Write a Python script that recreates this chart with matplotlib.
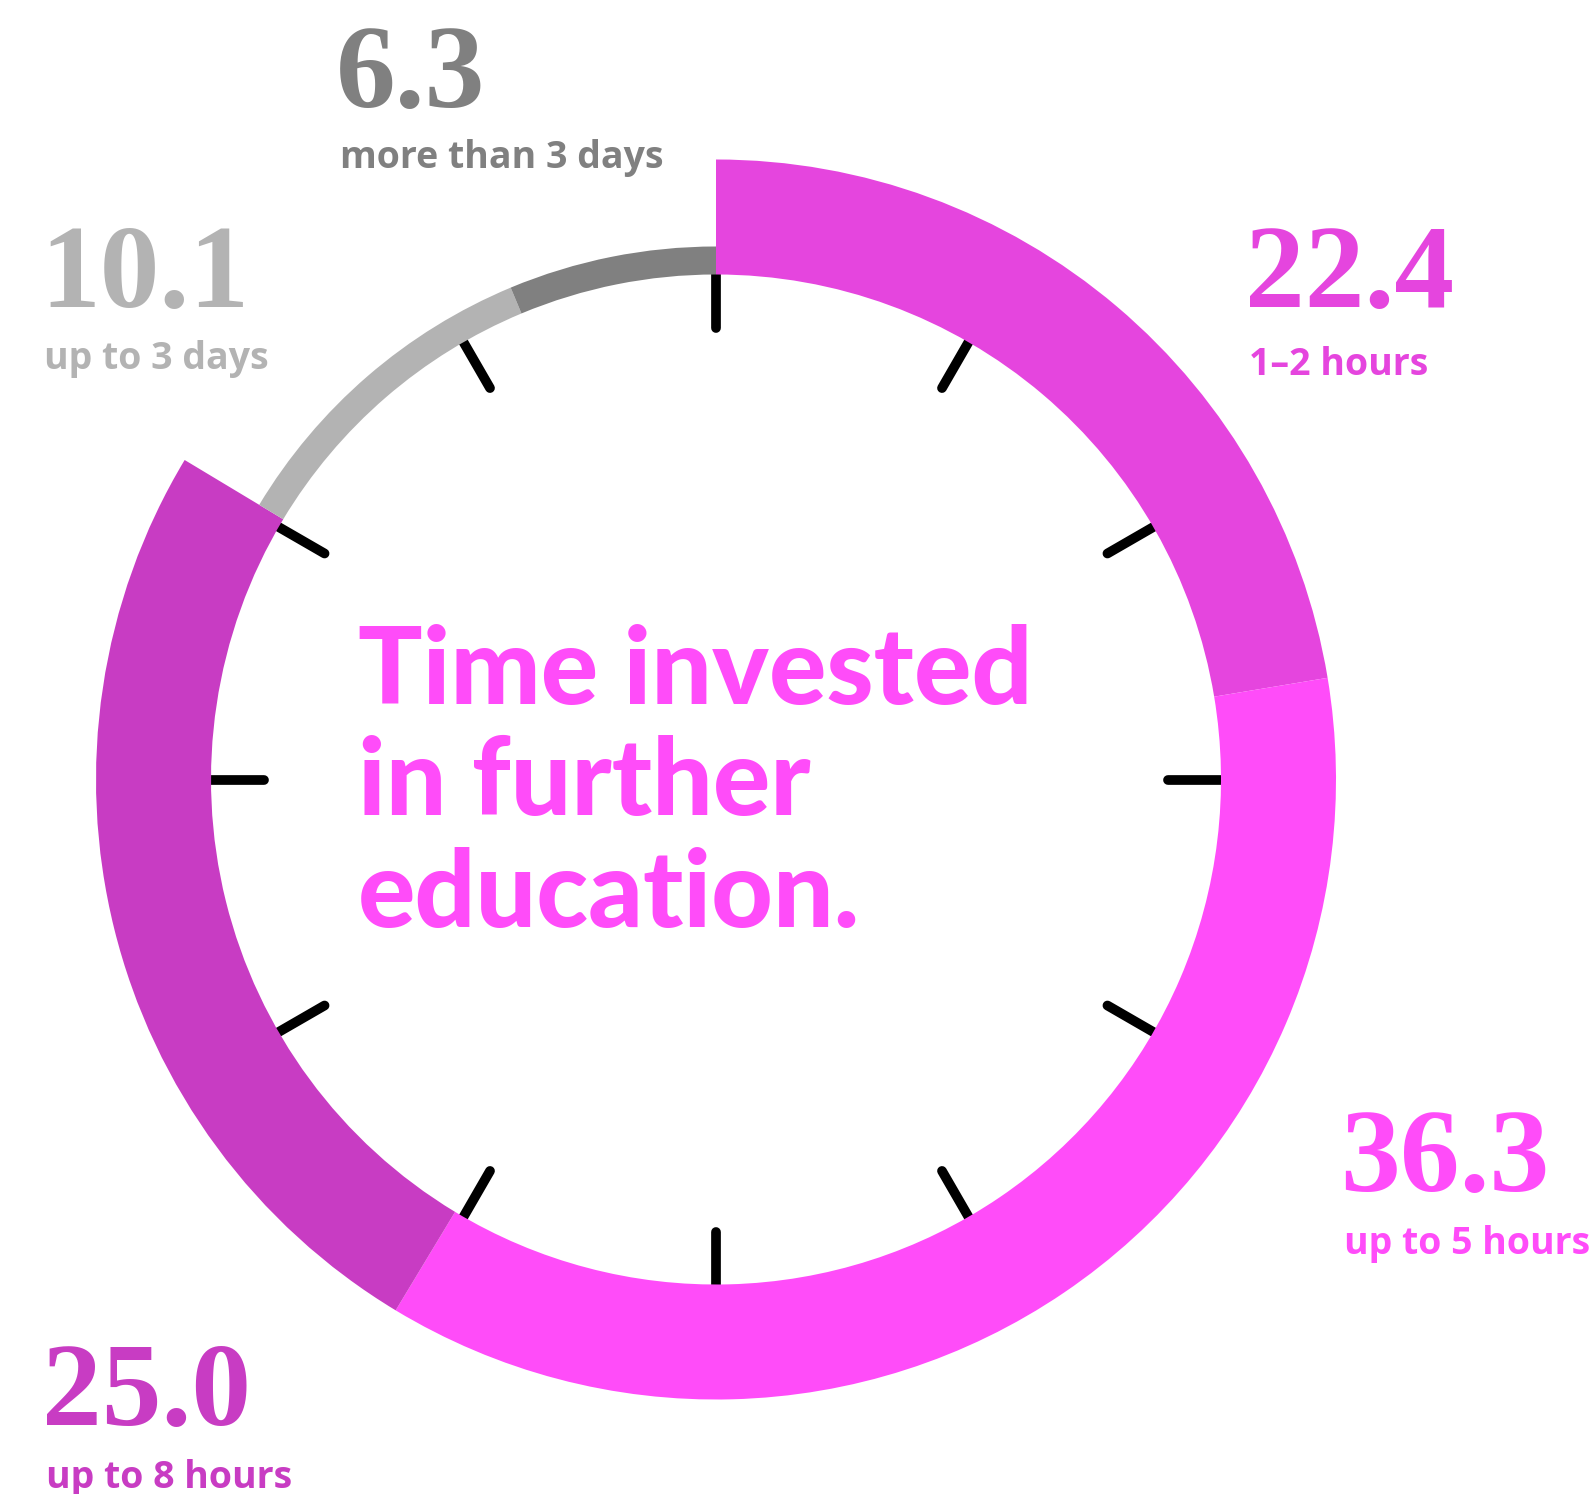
import matplotlib
matplotlib.use('Agg')
import matplotlib.pyplot as plt
from matplotlib.patches import Wedge
import numpy as np

# data (clockwise from 12 o'clock)
values = [22.4, 36.3, 25.0, 10.1, 6.3]
labels = ['1\u20132 hours', 'up to 5 hours', 'up to 8 hours', 'up to 3 days', 'more than 3 days']
colors = ['#E545DE', '#FF4CF9', '#C83CC3', '#B3B3B3', '#808080']
thick = [True, True, True, False, False]
title_lines = ['Time invested', 'in further', 'education.']

W, H = 1594, 1494
cx, cy = 716, 779.5
r_in, r_big, r_thin = 505, 620, 533

# label anchors in pixel coords (left, number baseline, label baseline)
label_pos = [(1245, 307, 375), (1340, 1191, 1254), (42, 1425, 1488),
             (40, 307, 369), (336, 107, 168)]

fig = plt.figure(figsize=(W / 100, H / 100), dpi=100)
ax = fig.add_axes([0, 0, 1, 1])
ax.set_xlim(0, W)
ax.set_ylim(H, 0)
ax.set_aspect('equal')
ax.axis('off')

# ring, y axis is inverted so increasing theta runs clockwise on screen
total = sum(values)
start = -90.0
for val, col, big in zip(values, colors, thick):
    span = 360.0 * val / total
    r_out = r_big if big else r_thin
    ax.add_patch(Wedge((cx, cy), r_out, start, start + span, width=r_out - r_in,
                       facecolor=col, edgecolor='none', zorder=3))
    start += span

# clock ticks
for ang in np.arange(0, 360, 30):
    t = np.deg2rad(ang - 90)
    r1, r2 = r_in + 3, 452
    ax.plot([cx + r1 * np.cos(t), cx + r2 * np.cos(t)],
            [cy + r1 * np.sin(t), cy + r2 * np.sin(t)],
            color='black', lw=7, solid_capstyle='round', zorder=2)

for val, lab, col, (x, yn, yl) in zip(values, labels, colors, label_pos):
    ax.text(x, yn, f'{val:.1f}', color=col, fontsize=86, fontweight='bold',
            family='Liberation Serif', ha='left', va='baseline')
    ax.text(x + 4, yl, lab, color=col, fontsize=27, fontweight='bold',
            family='Open Sans', ha='left', va='baseline')

for i, line in enumerate(title_lines):
    ax.text(358, 704 + i * 111.5, line, color='#FF4CF9', fontsize=77,
            fontweight='black', family='Lato', ha='left', va='baseline')

fig.savefig('out.png', dpi=100)
